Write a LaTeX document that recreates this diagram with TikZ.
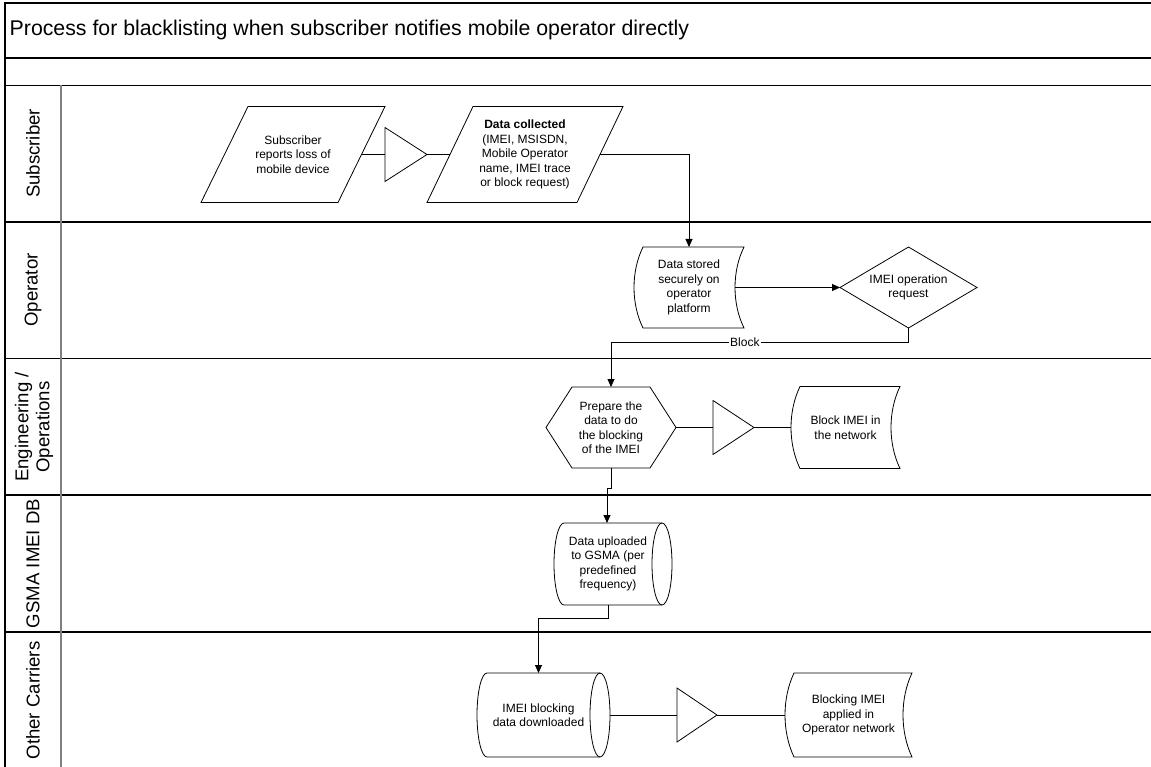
\documentclass[tikz,border=0pt]{standalone}
\usepackage{fontspec}
\setmainfont{Liberation Sans}
\usetikzlibrary{arrows.meta,calc}
\tikzset{
  frameline/.style={line width=1.3pt, draw=black},
  coldivider/.style={line width=1.5pt, draw=black!50},
  box/.style={draw=none, inner sep=0pt, outer sep=0pt, align=center, font=\fontsize{12}{14.5}\selectfont},
  outline/.style={draw=black, line width=0.8pt, line join=miter},
  conn/.style={draw=black, line width=0.8pt},
  arr/.style={conn, -{Triangle[length=8pt,width=7pt]}},
  lanelabel/.style={rotate=90, align=center, font=\fontsize{18.6}{21}\selectfont, inner sep=0pt},
}
% stored data outline: node, bulge, height
\newcommand\sdshape[3]{%
  \draw[outline] ([xshift=#2]#1.north west) -- (#1.north east)
    .. controls +({-1.333*#2},{0.3*#3}) and +({-1.333*#2},{-0.3*#3}) .. (#1.south east)
    -- ([xshift=#2]#1.south west)
    .. controls +({-1.333*#2},{-0.3*#3}) and +({-1.333*#2},{0.3*#3}) .. ([xshift=#2]#1.north west) -- cycle;}
% horizontal cylinder outline: node, end radius, half height
\newcommand\cylshape[3]{%
  \draw[outline] ([xshift=#2]#1.north west) -- (#1.north east)
    arc[start angle=-90, end angle=90, x radius=#2, y radius=#3]
    -- ([xshift=#2]#1.south west)
    arc[start angle=90, end angle=270, x radius=#2, y radius=#3] -- cycle;
  \draw[outline] (#1.north east) arc[start angle=270, end angle=90, x radius=#2, y radius=#3];}
\begin{document}
\begin{tikzpicture}[x=1pt,y=-1pt]
\useasboundingbox (0,0) rectangle (1151,767);
% frame and lanes
\draw[frameline] (1151,3) -- (5,3) -- (5,767);
\draw[frameline] (5,58) -- (1151,58);
\draw[frameline] (5,85.5) -- (1151,85.5);
\foreach \yy in {222,358.5,495,632} \draw[frameline] (5,\yy) -- (1151,\yy);
\draw[coldivider] (61,85.5) -- (61,767);
\node[anchor=base west, font=\fontsize{21.3}{25}\selectfont, inner sep=0pt] (title) at (9.5,36) {Process for blacklisting when subscriber notifies mobile operator directly};
% lane labels
\node[lanelabel] (lsub) at (33,153.5) {Subscriber};
\node[lanelabel] (lop) at (33,290) {Operator};
\node[lanelabel] (leng) at (34,427) {Engineering /\\Operations};
\node[lanelabel] (lgsma) at (33,563.5) {GSMA IMEI DB};
\node[lanelabel] (loth) at (33,700.5) {Other Carriers};
% subscriber lane
\node[box, minimum width=184pt, minimum height=96pt] (p1) at (293,154.5) {Subscriber\\reports loss of\\mobile device};
\draw[outline] ([xshift=47]p1.north west) -- (p1.north east) -- ([xshift=-47]p1.south east) -- (p1.south west) -- cycle;
\node[box, minimum width=42pt, minimum height=54pt] (t1) at (406,154.5) {};
\draw[outline] (t1.north west) -- (t1.east) -- (t1.south west) -- cycle;
\node[box, minimum width=196pt, minimum height=96pt] (p2) at (525,154.5) {\textbf{Data collected}\\(IMEI, MSISDN,\\Mobile Operator\\name, IMEI trace\\or block request)};
\draw[outline] ([xshift=46]p2.north west) -- (p2.north east) -- ([xshift=-46]p2.south east) -- (p2.south west) -- cycle;
% operator lane
\node[box, minimum width=110pt, minimum height=81pt] (ds) at (689,287.5) {Data stored\\securely on\\operator\\platform};
\sdshape{ds}{9}{81}
\node[box, minimum width=137pt, minimum height=81pt] (dia) at (908.5,287.5) {IMEI operation\\request};
\draw[outline] (dia.west) -- (dia.north) -- (dia.east) -- (dia.south) -- cycle;
% engineering lane
\node[box, minimum width=130pt, minimum height=81pt] (hex) at (611,427.5) {Prepare the\\data to do\\the blocking\\of the IMEI};
\draw[outline] (hex.west) -- ([xshift=26]hex.north west) -- ([xshift=-26]hex.north east) -- (hex.east) -- ([xshift=-26]hex.south east) -- ([xshift=26]hex.south west) -- cycle;
\node[box, minimum width=41pt, minimum height=54pt] (t2) at (733.5,427.5) {};
\draw[outline] (t2.north west) -- (t2.east) -- (t2.south west) -- cycle;
\node[box, minimum width=109pt, minimum height=82pt] (bn) at (845.5,427.5) {Block IMEI in\\the network};
\sdshape{bn}{9}{82}
% GSMA lane
\node[box, minimum width=108pt, minimum height=82pt] (gsma) at (608,564) {Data uploaded\\to GSMA (per\\predefined\\frequency)};
\cylshape{gsma}{10}{41}
% other carriers lane
\node[box, minimum width=123pt, minimum height=84pt] (oc) at (538.5,715) {IMEI blocking\\data downloaded};
\cylshape{oc}{10}{42}
\node[box, minimum width=40pt, minimum height=54pt] (t3) at (697,715) {};
\draw[outline] (t3.north west) -- (t3.east) -- (t3.south west) -- cycle;
\node[box, minimum width=127pt, minimum height=84pt] (ba) at (848.5,715) {Blocking IMEI\\applied in\\Operator network};
\sdshape{ba}{9}{84}
% connectors
\draw[conn] ([xshift=-23.5]p1.east) -- (t1.west);
\draw[conn] (t1.east) -- ([xshift=23]p2.west);
\draw[arr] ([xshift=-23]p2.east) -| (ds.north);
\draw[arr] ([xshift=-9]ds.east) -- (dia.west);
\draw[arr] (dia.south) -- ++(0,14) coordinate (bk) -- node[pos=0.55, fill=white, inner sep=1pt, font=\fontsize{12}{14.5}\selectfont] (blocklbl) {Block} (bk -| hex.north) -- (hex.north);
\draw[conn] (hex.east) -- (t2.west);
\draw[conn] (t2.east) -- (bn.west);
\draw[arr] (hex.south) -- ++(0,20) -| ([xshift=-1]gsma.north);
\draw[arr] (gsma.south) -- ++(0,13) -| (oc.north);
\draw[conn] ([xshift=10]oc.east) -- (t3.west);
\draw[conn] (t3.east) -- (ba.west);
\end{tikzpicture}
\end{document}
